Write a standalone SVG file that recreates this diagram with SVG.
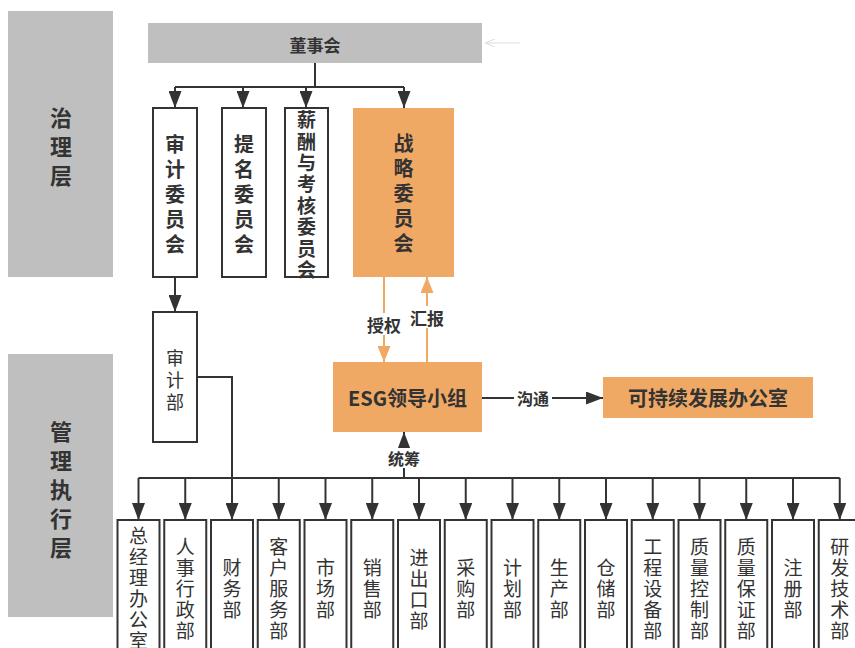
<svg xmlns="http://www.w3.org/2000/svg" width="855" height="648" viewBox="0 0 855 648">
<defs>
<style>
text{font-family:"Noto Sans CJK SC","Liberation Sans",sans-serif;fill:#333;text-anchor:middle;dominant-baseline:central}
.v{writing-mode:vertical-rl;text-orientation:upright}
.b{font-weight:bold}
.panel{fill:#bfbfbf}
.box{fill:#fff;stroke:#333;stroke-width:2}
.org{fill:#f0a965}
.ln{fill:none;stroke:#333;stroke-width:2}
.ol{fill:none;stroke:#f0a965;stroke-width:2}
.lbl{fill:#fff}
.dept{font-size:19px;letter-spacing:2px}
</style>
<marker id="a" viewBox="0 0 17 13" markerUnits="userSpaceOnUse" markerWidth="17" markerHeight="13" refX="17" refY="6.5" orient="auto"><path d="M0,0 L17,6.5 L0,13 z" fill="#333"/></marker>
<marker id="ao" viewBox="0 0 16 13" markerUnits="userSpaceOnUse" markerWidth="16" markerHeight="13" refX="16" refY="6.5" orient="auto"><path d="M0,0 L16,6.5 L0,13 z" fill="#f0a965"/></marker>
<marker id="ag" viewBox="0 0 10 8" markerUnits="userSpaceOnUse" markerWidth="10" markerHeight="8" refX="10" refY="4" orient="auto"><path d="M0,0 L10,4 L0,8" fill="none" stroke="#ddd"/></marker>
</defs>

<g id="layer-governance"><rect class="panel" x="8" y="11" width="105" height="266"/>
<text class="v b" font-size="22" letter-spacing="7" x="61" y="150">治理层</text></g>
<g id="layer-management"><rect class="panel" x="8" y="354" width="105" height="263"/>
<text class="v b" font-size="22" letter-spacing="7" x="61" y="493">管理执行层</text></g>

<g id="connectors">
<path class="ln" d="M315,63 V87 M175,87 H404"/>
<path class="ln" d="M175,87 V108" marker-end="url(#a)"/>
<path class="ln" d="M243,87 V108" marker-end="url(#a)"/>
<path class="ln" d="M306,87 V108" marker-end="url(#a)"/>
<path class="ln" d="M404,87 V108" marker-end="url(#a)"/>
<path d="M520,43 H485" stroke="#ddd" stroke-width="1" fill="none" marker-end="url(#ag)"/>
<path class="ln" d="M175,277 V312" marker-end="url(#a)"/>
<path class="ol" d="M384,277 V362" marker-end="url(#ao)"/>
<path class="ol" d="M427,362 V277" marker-end="url(#ao)"/>
<path class="ln" d="M482,398 H603" marker-end="url(#a)"/>
<path class="ln" d="M404,478 V432" marker-end="url(#a)"/>
<path class="ln" d="M197,377 H232 V520" marker-end="url(#a)"/>
<path class="ln" d="M138.5,478 H839.75"/>
<path class="ln" d="M138.5,478 V520" marker-end="url(#a)"/>
<path class="ln" d="M185.25,478 V520" marker-end="url(#a)"/>
<path class="ln" d="M278.75,478 V520" marker-end="url(#a)"/>
<path class="ln" d="M325.5,478 V520" marker-end="url(#a)"/>
<path class="ln" d="M372.25,478 V520" marker-end="url(#a)"/>
<path class="ln" d="M419,478 V520" marker-end="url(#a)"/>
<path class="ln" d="M465.75,478 V520" marker-end="url(#a)"/>
<path class="ln" d="M512.5,478 V520" marker-end="url(#a)"/>
<path class="ln" d="M559.25,478 V520" marker-end="url(#a)"/>
<path class="ln" d="M606,478 V520" marker-end="url(#a)"/>
<path class="ln" d="M652.75,478 V520" marker-end="url(#a)"/>
<path class="ln" d="M699.5,478 V520" marker-end="url(#a)"/>
<path class="ln" d="M746.25,478 V520" marker-end="url(#a)"/>
<path class="ln" d="M793,478 V520" marker-end="url(#a)"/>
<path class="ln" d="M839.75,478 V520" marker-end="url(#a)"/>
<rect class="lbl" x="365" y="313" width="38" height="22"/><text class="b" font-size="17" x="384" y="324">授权</text>
<rect class="lbl" x="408" y="306" width="38" height="22"/><text class="b" font-size="17" x="427" y="317">汇报</text>
<rect class="lbl" x="514" y="388" width="38" height="20"/><text class="b" font-size="16" x="533" y="398">沟通</text>
<rect class="lbl" x="385" y="448" width="38" height="20"/><text class="b" font-size="16" x="404" y="458">统筹</text>
</g>

<g id="board"><rect class="panel" x="148" y="23" width="334" height="40"/><text class="b" font-size="17" x="315" y="44">董事会</text></g>

<g id="audit-committee"><rect class="box" x="153" y="108" width="44" height="169"/>
<text class="v b" font-size="20" letter-spacing="5" x="175" y="197">审计委员会</text></g>
<g id="nomination-committee"><rect class="box" x="222" y="108" width="44" height="169"/>
<text class="v b" font-size="20" letter-spacing="5" x="244" y="197">提名委员会</text></g>
<g id="remuneration-committee"><rect class="box" x="285" y="108" width="43" height="169"/>
<text class="v b" font-size="19" letter-spacing="2.4" x="306.5" y="196">薪酬与考核委员会</text></g>
<g id="strategy-committee"><rect class="org" x="353" y="108" width="101" height="169"/>
<text class="v b" font-size="20" letter-spacing="5" x="403.5" y="196">战略委员会</text></g>

<g id="audit-dept"><rect class="box" x="153" y="312" width="44" height="130"/>
<text class="v" font-size="18" letter-spacing="4" fill="#444" x="175" y="382">审计部</text></g>

<g id="esg-group"><rect class="org" x="333" y="362" width="149" height="70"/><text class="b" font-size="20" x="407.5" y="397">ESG领导小组</text></g>
<g id="sustainability-office"><rect class="org" x="603" y="377" width="210" height="41"/><text class="b" font-size="20" x="708" y="397">可持续发展办公室</text></g>

<g id="d0"><rect class="box" x="117.5" y="520" width="42" height="140"/><text class="v dept" x="138.5" y="589">总经理办公室</text></g>
<g id="d1"><rect class="box" x="164.25" y="520" width="42" height="140"/><text class="v dept" x="185.25" y="590">人事行政部</text></g>
<g id="d2"><rect class="box" x="211" y="520" width="42" height="140"/><text class="v dept" x="232" y="590">财务部</text></g>
<g id="d3"><rect class="box" x="257.75" y="520" width="42" height="140"/><text class="v dept" x="278.75" y="590">客户服务部</text></g>
<g id="d4"><rect class="box" x="304.5" y="520" width="42" height="140"/><text class="v dept" x="325.5" y="590">市场部</text></g>
<g id="d5"><rect class="box" x="351.25" y="520" width="42" height="140"/><text class="v dept" x="372.25" y="590">销售部</text></g>
<g id="d6"><rect class="box" x="398" y="520" width="42" height="140"/><text class="v dept" x="419" y="590">进出口部</text></g>
<g id="d7"><rect class="box" x="444.75" y="520" width="42" height="140"/><text class="v dept" x="465.75" y="590">采购部</text></g>
<g id="d8"><rect class="box" x="491.5" y="520" width="42" height="140"/><text class="v dept" x="512.5" y="590">计划部</text></g>
<g id="d9"><rect class="box" x="538.25" y="520" width="42" height="140"/><text class="v dept" x="559.25" y="590">生产部</text></g>
<g id="d10"><rect class="box" x="585" y="520" width="42" height="140"/><text class="v dept" x="606" y="590">仓储部</text></g>
<g id="d11"><rect class="box" x="631.75" y="520" width="42" height="140"/><text class="v dept" x="652.75" y="590">工程设备部</text></g>
<g id="d12"><rect class="box" x="678.5" y="520" width="42" height="140"/><text class="v dept" x="699.5" y="590">质量控制部</text></g>
<g id="d13"><rect class="box" x="725.25" y="520" width="42" height="140"/><text class="v dept" x="746.25" y="590">质量保证部</text></g>
<g id="d14"><rect class="box" x="772" y="520" width="42" height="140"/><text class="v dept" x="793" y="590">注册部</text></g>
<g id="d15"><rect class="box" x="818.75" y="520" width="42" height="140"/><text class="v dept" x="839.75" y="590">研发技术部</text></g>
</svg>
